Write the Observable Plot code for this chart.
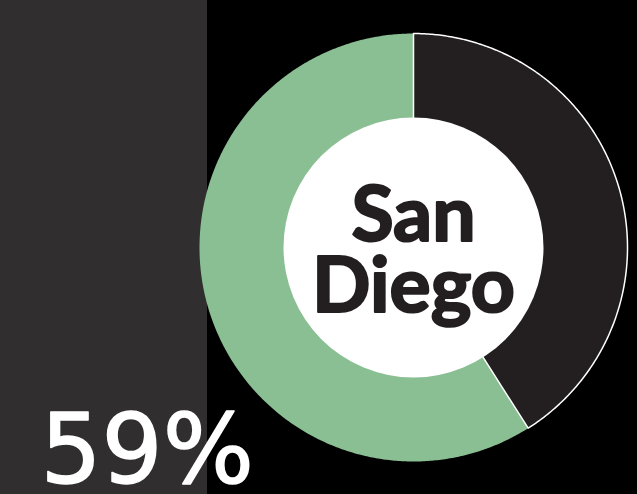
<!DOCTYPE html>
<html>
<head>
<meta charset="utf-8">
<script src="https://cdn.jsdelivr.net/npm/d3@7"></script>
<script src="https://cdn.jsdelivr.net/npm/@observablehq/plot@0.6"></script>
<style>
  html, body { margin: 0; padding: 0; background: #000; }
  #chart { width: 637px; height: 494px; background: linear-gradient(to right, #302e2f 207px, #000 207px); }
  svg { display: block; }
</style>
</head>
<body>
<div id="chart"></div>
<script>
const categories = ["Other", "Share"];
const values = [41, 59];
const colors = ["#231f20", "#8abf93"];
const centerLabel = ["San Diego"];
const bigLabel = ["59%"];

const W = 637, H = 494;
const cx = 413, cy = 247, R = 214;
// Build wedge outlines from the values (angles measured clockwise from 12 o'clock)
const total = d3.sum(values);
let acc = 0;
const pts = [];
categories.forEach((c, i) => {
  const a0 = acc / total * 2 * Math.PI;
  acc += values[i];
  const a1 = acc / total * 2 * Math.PI;
  pts.push({cat: c, x: 0, y: 0});
  const n = Math.max(2, Math.ceil((a1 - a0) / (Math.PI / 360)));
  for (let k = 0; k <= n; k++) {
    const a = a0 + (a1 - a0) * k / n;
    pts.push({cat: c, x: Math.sin(a), y: Math.cos(a)});
  }
  pts.push({cat: c, x: 0, y: 0});
});

const chart = Plot.plot({
  width: W,
  height: H,
  margin: 0,
  style: {background: "transparent"},
  x: {domain: [-cx / R, (W - cx) / R], axis: null},
  y: {domain: [-(H - cy) / R, cy / R], axis: null},
  marks: [
    Plot.line(pts.filter(d => d.cat === "Share"), {x: "x", y: "y", fill: colors[1], stroke: "none"}),
    Plot.line(pts.filter(d => d.cat === "Other"), {x: "x", y: "y", fill: colors[0], stroke: "white", strokeWidth: 1.5, strokeLinejoin: "round"}),
    Plot.dot([{x: 0, y: 0}], {x: "x", y: "y", r: 130, fill: "white", stroke: "none"}),
    Plot.text(centerLabel, {x: () => 0, y: () => 0, text: d => d.replace(" ", "\n"), fill: "#231f20", stroke: "#231f20", strokeWidth: 2.2, fontSize: 77, fontWeight: "bold", fontFamily: "Lato", lineHeight: 0.92, textAnchor: "middle", lineAnchor: "middle", dy: 6}),
    Plot.text(bigLabel, {text: d => d, frameAnchor: "bottom-left", dx: 40, dy: -12, fill: "white", stroke: "white", strokeWidth: 1.5, fontSize: 96, fontFamily: "DejaVu Sans", lineAnchor: "bottom"})
  ]
});
document.getElementById("chart").appendChild(chart);
</script>
</body>
</html>
